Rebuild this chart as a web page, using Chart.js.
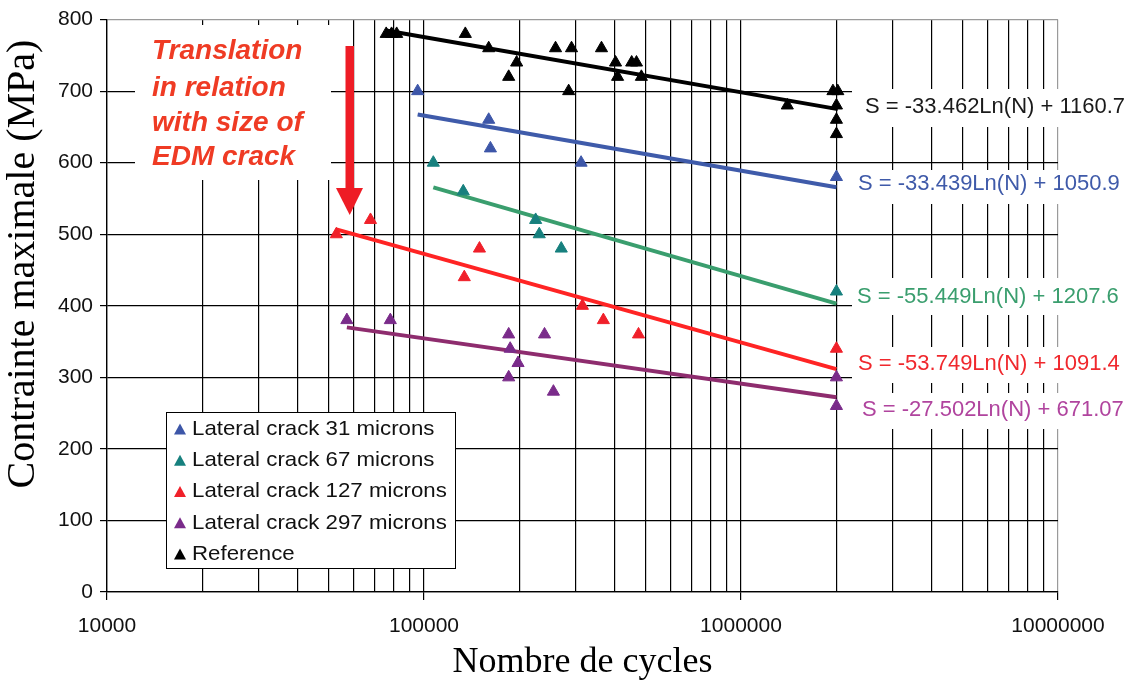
<!DOCTYPE html>
<html>
<head>
<meta charset="utf-8">
<script src="https://cdn.jsdelivr.net/npm/chart.js@4.4.1/dist/chart.umd.min.js"></script>
<style>
  html, body { margin: 0; padding: 0; background: #ffffff; }
  #wrap { width: 1135px; height: 680px; }
</style>
</head>
<body>
<div id="wrap"><canvas id="chart" width="1135" height="680"></canvas></div>
<script>
// ---- Fatigue data: number of cycles (N) and maximum stress (MPa) ----
const seriesNames = [
  'Lateral crack 31 microns',
  'Lateral crack 67 microns',
  'Lateral crack 127 microns',
  'Lateral crack 297 microns',
  'Reference'
];

const crack31Cycles = [95500, 160000, 162000, 313000, 2000000];
const crack31Stress = [700, 660, 620, 600, 580];

const crack67Cycles = [107000, 133000, 225000, 231000, 271000, 2000000];
const crack67Stress = [600, 560, 520, 500, 480, 420];

const crack127Cycles = [52900, 67800, 134000, 149600, 316000, 368000, 475000, 2000000];
const crack127Stress = [500, 520, 440, 480, 400, 380, 360, 340];

const crack297Cycles = [57100, 78300, 185000, 187000, 198000, 185000, 240000, 256000, 2000000, 2000000];
const crack297Stress = [380, 380, 360, 340, 320, 300, 360, 280, 300, 260];

const referenceCycles = [76000, 79000, 82000, 135000, 160000, 185000, 196000, 260000, 286000, 292000,
  363000, 402000, 408000, 452000, 468000, 485000, 1400000, 1950000, 2020000, 2000000, 2000000, 2000000];
const referenceStress = [780, 780, 780, 780, 760, 720, 740, 760, 700, 760,
  760, 740, 720, 740, 740, 720, 680, 700, 700, 680, 660, 640];

// Logarithmic trend lines S = a*Ln(N) + b
const trendSlopes = [-33.439, -55.449, -53.749, -27.502, -33.462];
const trendIntercepts = [1050.9, 1207.6, 1091.4, 671.07, 1160.7];

// Axis ticks
const xMajorLabels = ['10000', '100000', '1000000', '10000000'];
const yTickLabels = ['0', '100', '200', '300', '400', '500', '600', '700', '800'];

const markerColors = ['#3D56A8', '#17807E', '#F0202A', '#7A2B8A', '#000000'];
const lineColors = ['#3F5BAA', '#3A9E6E', '#FF2424', '#8E2C6E', '#000000'];
const labelColors = ['#3F5AA9', '#3A9E6E', '#F0282D', '#B0449E', '#1A1A1A'];

const cyclesBySeries = [crack31Cycles, crack67Cycles, crack127Cycles, crack297Cycles, referenceCycles];
const stressBySeries = [crack31Stress, crack67Stress, crack127Stress, crack297Stress, referenceStress];

const datasets = [];
cyclesBySeries.forEach((cycles, i) => {
  datasets.push({
    type: 'scatter',
    label: seriesNames[i],
    data: cycles.map((n, k) => ({ x: n, y: stressBySeries[i][k] })),
    pointStyle: 'triangle',
    pointRadius: 7,
    pointBackgroundColor: markerColors[i],
    pointBorderColor: markerColors[i],
    pointBorderWidth: 1,
    order: 0
  });
});
cyclesBySeries.forEach((cycles, i) => {
  const nMin = Math.min(...cycles), nMax = Math.max(...cycles);
  const a = trendSlopes[i], b = trendIntercepts[i];
  datasets.push({
    type: 'line',
    label: 'trend-' + i,
    data: [{ x: nMin, y: a * Math.log(nMin) + b }, { x: nMax, y: a * Math.log(nMax) + b }],
    borderColor: lineColors[i],
    borderWidth: 4,
    pointRadius: 0,
    fill: false,
    order: 1
  });
});

// Equation label placement (left x, centre y) and the white boxes behind them
const eqLayout = [
  { x: 858, y: 184, boxTop: 170, boxBottom: 204 },
  { x: 857, y: 297, boxTop: 278, boxBottom: 315 },
  { x: 858, y: 364, boxTop: 347, boxBottom: 383 },
  { x: 862, y: 410, boxTop: 393, boxBottom: 429 },
  { x: 865, y: 107, boxTop: 89, boxBottom: 127 }
];

function drawText(ctx, text, x, y, font, color, align, sx) {
  ctx.save();
  ctx.font = font;
  ctx.fillStyle = color;
  ctx.textAlign = align || 'left';
  ctx.textBaseline = 'middle';
  ctx.translate(x, y);
  ctx.scale(sx || 1, 1);
  ctx.fillText(text, 0, 0);
  ctx.restore();
}

function triangle(ctx, cx, cy, w, h, color) {
  ctx.beginPath();
  ctx.moveTo(cx, cy - h / 2);
  ctx.lineTo(cx + w / 2, cy + h / 2);
  ctx.lineTo(cx - w / 2, cy + h / 2);
  ctx.closePath();
  ctx.fillStyle = color;
  ctx.fill();
}

const overlayPlugin = {
  id: 'overlay',
  beforeDatasetsDraw(chart) {
    const ctx = chart.ctx;
    ctx.save();
    ctx.fillStyle = '#ffffff';
    // note box
    ctx.fillRect(135, 25, 196, 155);
    // equation boxes
    eqLayout.forEach(e => ctx.fillRect(852, e.boxTop, 283, e.boxBottom - e.boxTop));
    ctx.restore();
  },
  afterDatasetsDraw(chart) {
    const ctx = chart.ctx;
    // legend
    ctx.save();
    ctx.fillStyle = '#ffffff';
    ctx.fillRect(166.5, 412.5, 289, 156);
    ctx.strokeStyle = '#000000';
    ctx.lineWidth = 1;
    ctx.strokeRect(166.5, 412.5, 289, 156);
    ctx.restore();
    seriesNames.forEach((name, i) => {
      const cy = 429 + i * 31.25;
      triangle(ctx, 180, cy, 12, 11, markerColors[i]);
      drawText(ctx, name, 192, cy, '21px "Liberation Sans", Arial, sans-serif', '#111111', 'left', 1.06);
    });

    // regression equations
    trendSlopes.forEach((a, i) => {
      const txt = 'S = ' + a + 'Ln(N) + ' + trendIntercepts[i];
      drawText(ctx, txt, eqLayout[i].x, eqLayout[i].y, '22px "Liberation Sans", Arial, sans-serif', labelColors[i], 'left', 1);
    });

    // note on the shift caused by the EDM crack size
    const noteLines = ['Translation', 'in relation', 'with size of', 'EDM crack'];
    const noteY = [51, 88, 123, 157];
    noteLines.forEach((t, k) => {
      drawText(ctx, t, 152, noteY[k], 'italic bold 28px "Liberation Sans", Arial, sans-serif', '#EF3B24', 'left', 1);
    });

    // downward arrow
    ctx.save();
    ctx.fillStyle = '#EE1C25';
    ctx.fillRect(345.5, 46, 8.5, 143);
    ctx.beginPath();
    ctx.moveTo(336, 188);
    ctx.lineTo(363, 188);
    ctx.lineTo(349.7, 215);
    ctx.closePath();
    ctx.fill();
    ctx.restore();

    // axis titles
    ctx.save();
    ctx.translate(23, 264);
    ctx.rotate(-Math.PI / 2);
    ctx.font = '40px "Liberation Serif", "Times New Roman", serif';
    ctx.fillStyle = '#000000';
    ctx.textAlign = 'center';
    ctx.textBaseline = 'middle';
    ctx.fillText('Contrainte maximale (MPa)', 0, 0);
    ctx.restore();
    drawText(ctx, 'Nombre de cycles', 582.5, 663, '36px "Liberation Serif", "Times New Roman", serif', '#000000', 'center', 1);
  }
};

Chart.defaults.font.family = '"Liberation Sans", Arial, sans-serif';

new Chart(document.getElementById('chart'), {
  data: { datasets },
  options: {
    responsive: false,
    animation: false,
    devicePixelRatio: 1,
    layout: { padding: { top: 19, right: 77, left: 0, bottom: 0 } },
    plugins: { legend: { display: false }, tooltip: { enabled: false } },
    scales: {
      x: {
        type: 'logarithmic',
        min: 10000,
        max: 10000000,
        afterBuildTicks(scale) {
          const ticks = [];
          for (let e = 4; e < 7; e++) {
            for (let m = 1; m < 10; m++) ticks.push({ value: m * Math.pow(10, e) });
          }
          ticks.push({ value: 10000000 });
          scale.ticks = ticks;
        },
        afterFit(scale) { scale.height = 88; },
        ticks: {
          autoSkip: false,
          maxRotation: 0,
          padding: 14,
          color: '#111111',
          font: { size: 21 },
          callback(value) {
            const p = Math.log10(value);
            return Math.abs(p - Math.round(p)) < 1e-9 ? xMajorLabels[Math.round(p) - 4] : '';
          }
        },
        grid: {
          color: c => (c.tick && c.tick.value === 10000000 ? '#9a9a9a' : '#000000'),
          lineWidth: 1.2,
          tickLength: 8,
          tickColor: c => {
            const p = Math.log10(c.tick.value);
            return Math.abs(p - Math.round(p)) < 1e-9 ? '#000000' : 'rgba(0,0,0,0)';
          }
        },
        border: { color: '#000000', width: 1.3 }
      },
      y: {
        type: 'linear',
        min: 0,
        max: 800,
        afterFit(scale) { scale.width = 107; },
        ticks: {
          stepSize: 100,
          padding: 7,
          color: '#111111',
          font: { size: 21 },
          callback(value) { return yTickLabels[Math.round(value / 100)]; }
        },
        grid: {
          color: c => (c.tick && c.tick.value === 800 ? '#9a9a9a' : '#000000'),
          lineWidth: 1.2,
          tickLength: 7,
          tickColor: '#000000'
        },
        border: { color: '#000000', width: 1.3 }
      }
    }
  },
  plugins: [overlayPlugin]
});
</script>
</body>
</html>
